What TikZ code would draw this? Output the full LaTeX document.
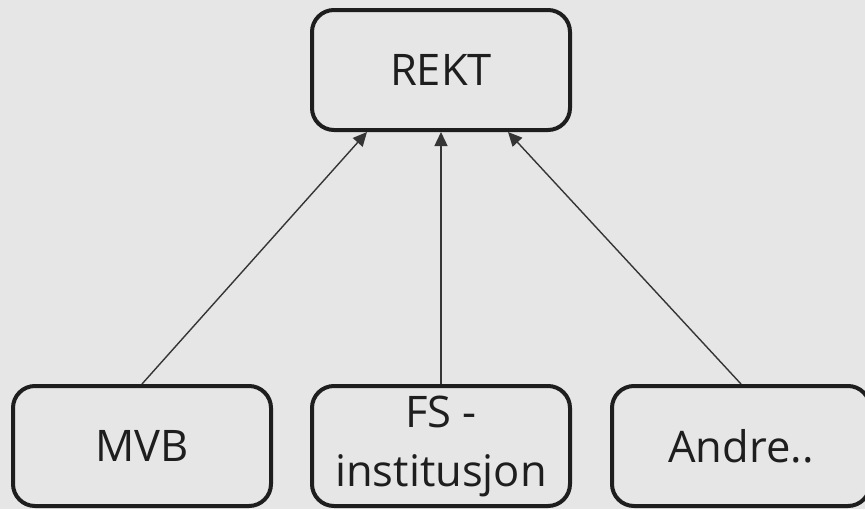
\documentclass[tikz,border=0pt]{standalone}
\usepackage{fontspec}
\setmainfont{Open Sans}
\usetikzlibrary{arrows.meta}
\definecolor{bggray}{HTML}{E6E6E6}
\definecolor{inkgray}{HTML}{1E1E1E}

\begin{document}
\begin{tikzpicture}[
		x=1pt, y=-1pt,
		every node/.style={draw=inkgray,line width=4pt,rounded corners=22pt,minimum width=258pt,minimum height=120pt,inner sep=0pt,text=inkgray,font=\fontsize{43.5}{59}\selectfont,align=center},
		link/.style={-{Triangle[length=14pt,width=13pt]},draw=inkgray!90,line width=1.4pt}
		]
		\fill[bggray] (0,0) rectangle (865,509);
		\useasboundingbox (0,0) rectangle (865,509);
		\node (rekt) at (441,70) {REKT};
		\node (mvb) at (142,446) {MVB};
		\node (fs) at (441,446) {FS -\\institusjon};
		\node (andre) at (741,446) {Andre..};
		\draw[link] (mvb.north) -- ([xshift=-74pt]rekt.south);
		\draw[link] (fs.north) -- (rekt.south);
		\draw[link] (andre.north) -- ([xshift=67pt]rekt.south);
	\end{tikzpicture}
\end{document}
